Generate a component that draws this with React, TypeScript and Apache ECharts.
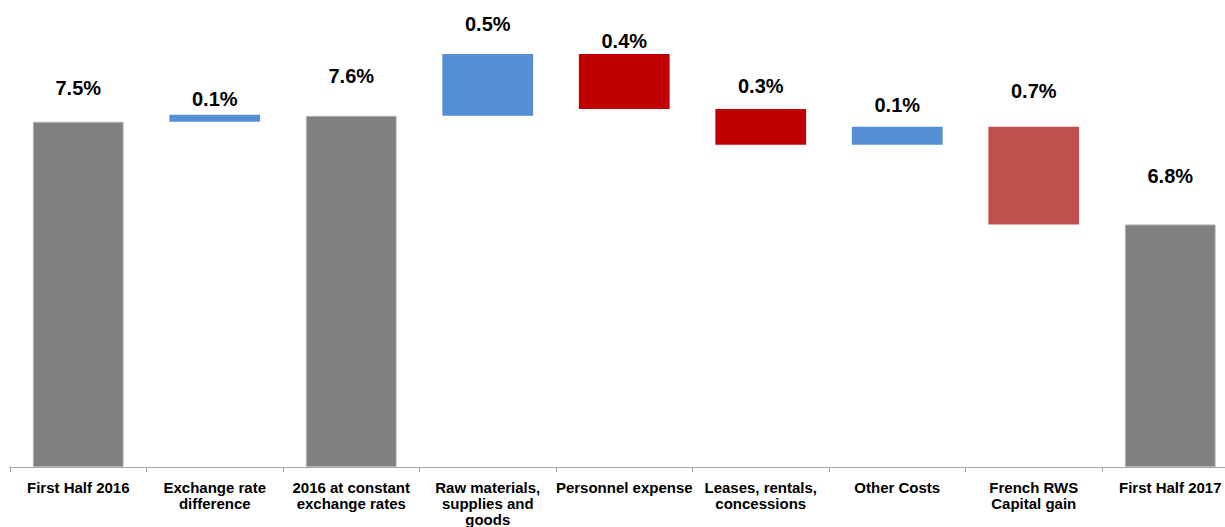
import React, { useEffect, useRef } from "react";
import * as echarts from "echarts";

const categories = [
  "First Half 2016",
  "Exchange rate\ndifference",
  "2016 at constant\nexchange rates",
  "Raw materials,\nsupplies and\ngoods",
  "Personnel expense",
  "Leases, rentals,\nconcessions",
  "Other Costs",
  "French RWS\nCapital gain",
  "First Half 2017",
];
// bar bottoms and tops as drawn in the reference (waterfall steps)
const barLow = [0, 7.5, 0, 7.63, 7.78, 7.0, 7.0, 5.27, 0];
const barHigh = [7.5, 7.65, 7.63, 8.97, 8.97, 7.78, 7.39, 7.39, 5.27];
const valueLabels = ["7.5%", "0.1%", "7.6%", "0.5%", "0.4%", "0.3%", "0.1%", "0.7%", "6.8%"];
const barKinds = ["total", "up", "total", "up", "down", "down", "up", "gain", "total"];

const kindColors: Record<string, string> = {
  total: "#808080",
  up: "#558ED5",
  down: "#C00000",
  gain: "#C0504D",
};
const labelDistances = [24, 6, 30, 20, 3, 13, 12, 26, 38];

export default function App() {
  const ref = useRef<HTMLDivElement>(null);
  useEffect(() => {
    if (!ref.current) return;
    const chart = echarts.init(ref.current, null, { renderer: "svg" });
    const deltas = barHigh.map((h, i) => +(h - barLow[i]).toFixed(4));
    chart.setOption({
      animation: false,
      backgroundColor: "#ffffff",
      textStyle: { fontFamily: "'Liberation Sans', Arial, sans-serif" },
      grid: { left: 10, right: 11.5, top: 6.7, bottom: 59, containLabel: false },
      xAxis: {
        type: "category",
        data: categories,
        axisLine: { lineStyle: { color: "#a6a6a6", width: 1 } },
        axisTick: { show: true, length: 5, lineStyle: { color: "#a6a6a6" } },
        axisLabel: {
          interval: 0,
          margin: 12,
          color: "#000000",
          fontWeight: "bold",
          fontSize: 15,
          lineHeight: 16,
          fontFamily: "'Liberation Sans', Arial, sans-serif",
        },
      },
      yAxis: {
        type: "value",
        min: 0,
        max: 10,
        show: false,
        splitLine: { show: false },
      },
      series: [
        {
          type: "bar",
          stack: "w",
          barCategoryGap: "33.5%",
          data: barLow,
          itemStyle: { color: "transparent" },
          silent: true,
        },
        {
          type: "bar",
          stack: "w",
          barCategoryGap: "33.5%",
          data: deltas.map((d, i) => ({
            value: d,
            itemStyle: {
              color: kindColors[barKinds[i]],
              borderColor: barKinds[i] === "total" ? "#b4b4b4" : kindColors[barKinds[i]],
              borderWidth: barKinds[i] === "total" ? 1 : 0,
            },
            label: {
              show: true,
              position: "top",
              distance: labelDistances[i],
              formatter: valueLabels[i],
              color: "#000000",
              fontWeight: "bold",
              fontSize: 20,
              fontFamily: "'Liberation Sans', Arial, sans-serif",
            },
          })),
        },
      ],
    });
    return () => chart.dispose();
  }, []);
  return (
    <div
      style={{
        position: "fixed",
        left: 0,
        top: 0,
        width: 1225,
        height: 527,
        overflow: "hidden",
        background: "#ffffff",
      }}
    >
      <div ref={ref} style={{ width: 1250, height: 527 }} />
    </div>
  );
}
